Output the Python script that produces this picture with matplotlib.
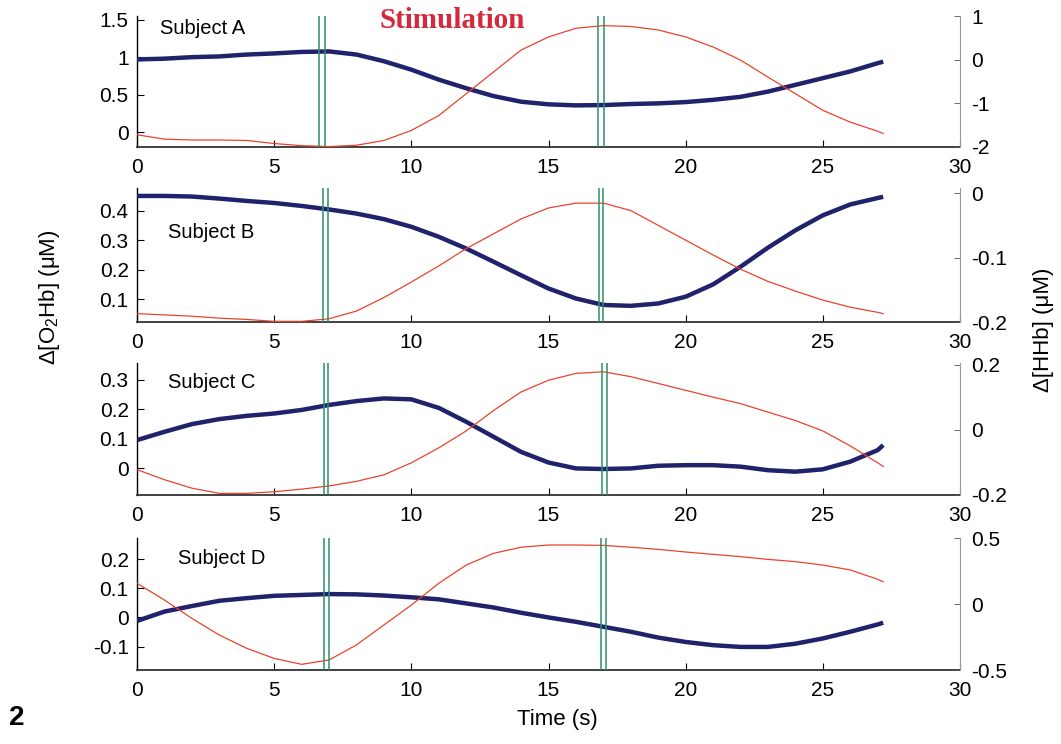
import matplotlib
matplotlib.use("Agg")
from matplotlib import pyplot as plt

plt.rcParams['font.family'] = ['Liberation Sans', 'DejaVu Sans']
plt.rcParams['mathtext.fontset'] = 'custom'
plt.rcParams['mathtext.rm'] = 'Liberation Sans'
plt.rcParams['mathtext.it'] = 'Liberation Sans'

# time axis (s)
t = [0, 1, 2, 3, 4, 5, 6, 7, 8, 9, 10, 11, 12, 13, 14, 15, 16, 17, 18, 19,
     20, 21, 22, 23, 24, 25, 26, 27, 27.2]

subjects = ['Subject A', 'Subject B', 'Subject C', 'Subject D']

# delta O2Hb (left axis, thick blue)
o2hb_a = [0.97, 0.98, 1.00, 1.01, 1.035, 1.05, 1.07, 1.077, 1.035, 0.946, 0.833,
          0.70, 0.585, 0.48, 0.405, 0.37, 0.356, 0.36, 0.374, 0.383, 0.40, 0.43,
          0.47, 0.54, 0.63, 0.72, 0.81, 0.92, 0.94]
o2hb_b = [0.451, 0.451, 0.449, 0.442, 0.434, 0.427, 0.417, 0.405, 0.391, 0.372,
          0.346, 0.312, 0.272, 0.227, 0.181, 0.136, 0.102, 0.08, 0.077, 0.085,
          0.108, 0.15, 0.21, 0.275, 0.334, 0.385, 0.422, 0.444, 0.448]
o2hb_c = [0.096, 0.124, 0.150, 0.167, 0.178, 0.186, 0.198, 0.215, 0.228, 0.237,
          0.234, 0.205, 0.158, 0.107, 0.056, 0.02, 0.0, -0.002, 0.0, 0.009,
          0.011, 0.011, 0.006, -0.006, -0.011, -0.003, 0.023, 0.062, 0.079]
o2hb_d = [-0.012, 0.02, 0.039, 0.057, 0.066, 0.074, 0.077, 0.08, 0.079, 0.075,
          0.069, 0.062, 0.048, 0.034, 0.016, 0.0, -0.015, -0.032, -0.049, -0.069,
          -0.084, -0.095, -0.101, -0.101, -0.09, -0.072, -0.049, -0.024, -0.018]

# delta HHb (right axis, thin red)
hhb_a = [-1.72, -1.82, -1.84, -1.84, -1.85, -1.92, -1.97, -1.99, -1.96, -1.85,
         -1.62, -1.28, -0.78, -0.28, 0.22, 0.52, 0.72, 0.78, 0.76, 0.68, 0.52,
         0.29, -0.01, -0.40, -0.78, -1.16, -1.43, -1.64, -1.69]
hhb_b = [-0.187, -0.189, -0.191, -0.194, -0.196, -0.199, -0.199, -0.195, -0.183,
         -0.162, -0.138, -0.113, -0.086, -0.063, -0.040, -0.023, -0.0155, -0.0155,
         -0.027, -0.05, -0.073, -0.096, -0.118, -0.137, -0.152, -0.166, -0.177,
         -0.185, -0.187]
hhb_c = [-0.122, -0.153, -0.179, -0.195, -0.195, -0.19, -0.182, -0.172, -0.158,
         -0.138, -0.101, -0.055, -0.003, 0.06, 0.117, 0.153, 0.174, 0.179, 0.164,
         0.143, 0.122, 0.101, 0.081, 0.055, 0.029, -0.003, -0.049, -0.101, -0.112]
hhb_d = [0.157, 0.03, -0.109, -0.235, -0.336, -0.412, -0.457, -0.424, -0.31,
         -0.159, -0.008, 0.157, 0.295, 0.384, 0.43, 0.447, 0.447, 0.444, 0.43,
         0.414, 0.394, 0.376, 0.359, 0.338, 0.321, 0.295, 0.258, 0.187, 0.169]

o2hb = [o2hb_a, o2hb_b, o2hb_c, o2hb_d]
hhb = [hhb_a, hhb_b, hhb_c, hhb_d]

# stimulation start / end markers (double green lines)
stim_on = [(6.62, 6.85), (6.78, 6.96), (6.8, 6.98), (6.8, 7.0)]
stim_off = [(16.8, 17.02), (16.85, 17.0), (16.95, 17.12), (16.9, 17.1)]

# axis ranges and ticks
left_lims = [(-0.2, 1.55), (0.022, 0.478), (-0.09, 0.357), (-0.18, 0.272)]
right_lims = [(-2, 1), (-0.2, 0.008), (-0.2, 0.206), (-0.5, 0.5)]
left_ticks = [[0, 0.5, 1, 1.5], [0.1, 0.2, 0.3, 0.4], [0, 0.1, 0.2, 0.3], [-0.1, 0, 0.1, 0.2]]
left_labels = [['0', '0.5', '1', '1.5'], ['0.1', '0.2', '0.3', '0.4'],
               ['0', '0.1', '0.2', '0.3'], ['-0.1', '0', '0.1', '0.2']]
right_ticks = [[-2, -1, 0, 1], [-0.2, -0.1, 0], [-0.2, 0, 0.2], [-0.5, 0, 0.5]]
right_labels = [['-2', '-1', '0', '1'], ['-0.2', '-0.1', '0'], ['-0.2', '0', '0.2'],
                ['-0.5', '0', '0.5']]
x_ticks = [0, 5, 10, 15, 20, 25, 30]

BLUE = '#20226c'
RED = '#e8432e'
GREEN = '#2e8f6c'

fig = plt.figure(figsize=(10.61, 7.44), dpi=100)
W, H = 1061, 744
boxes = [(16, 147), (188, 322), (363, 495), (538, 670)]  # top, bottom px
label_pos = [(160, 28), (168, 232), (168, 383), (178, 558)]  # left, center-y px
x_left, x_right = 137, 960

for i in range(4):
    top, bot = boxes[i]
    ax = fig.add_axes([x_left / W, 1 - bot / H, (x_right - x_left) / W, (bot - top) / H])
    ax.plot(t, o2hb[i], color=BLUE, lw=3.2, solid_capstyle='butt', zorder=3)
    ax.set_xlim(0, 30)
    ax.set_ylim(*left_lims[i])
    ax.set_xticks(x_ticks)
    ax.set_xticklabels([str(v) for v in x_ticks])
    ax.set_yticks(left_ticks[i])
    ax.set_yticklabels(left_labels[i])
    ax.tick_params(direction='in', length=5, width=0.8, labelsize=15, pad=6)
    ax.tick_params(axis='x', pad=8)
    ax.spines['top'].set_visible(False)
    ax.spines['right'].set_visible(False)
    ax.spines['left'].set_linewidth(1.0)
    ax.spines['bottom'].set_linewidth(1.3)
    ax.spines['bottom'].set_color('#333333')

    ax2 = ax.twinx()
    ax2.plot(t, hhb[i], color=RED, lw=0.9, zorder=2)
    ax2.set_ylim(*right_lims[i])
    ax2.set_yticks(right_ticks[i])
    ax2.set_yticklabels(right_labels[i])
    ax2.tick_params(direction='in', length=4, width=0.6, labelsize=15, pad=8,
                    color='#555555')
    for s in ['top', 'left', 'bottom']:
        ax2.spines[s].set_visible(False)
    ax2.spines['right'].set_color('#9a9a9a')
    ax2.spines['right'].set_linewidth(0.8)
    for x in stim_on[i] + stim_off[i]:
        ax2.axvline(x, color=GREEN, lw=1.1, zorder=4)

    lx, ly = label_pos[i]
    fig.text(lx / W, 1 - ly / H, subjects[i], fontsize=14.5, ha='left', va='center')

fig.text(452 / W, 1 - 20 / H, 'Stimulation', color='#d42a3c', fontsize=21,
         fontweight='bold', family=['Liberation Serif', 'DejaVu Serif'],
         ha='center', va='center')
fig.text(50 / W, 1 - 297 / H, 'Δ[O$_2$Hb] (μM)', rotation=90, fontsize=16,
         ha='center', va='center')
fig.text(1043 / W, 1 - 330 / H, 'Δ[HHb] (μM)', rotation=90, fontsize=16,
         ha='center', va='center')
fig.text(557 / W, 1 - 720 / H, 'Time (s)', fontsize=16, ha='center', va='center')
fig.text(17 / W, 1 - 718 / H, '2', fontsize=20, fontweight='bold', ha='center', va='center')

fig.savefig('out.png', dpi=100)
